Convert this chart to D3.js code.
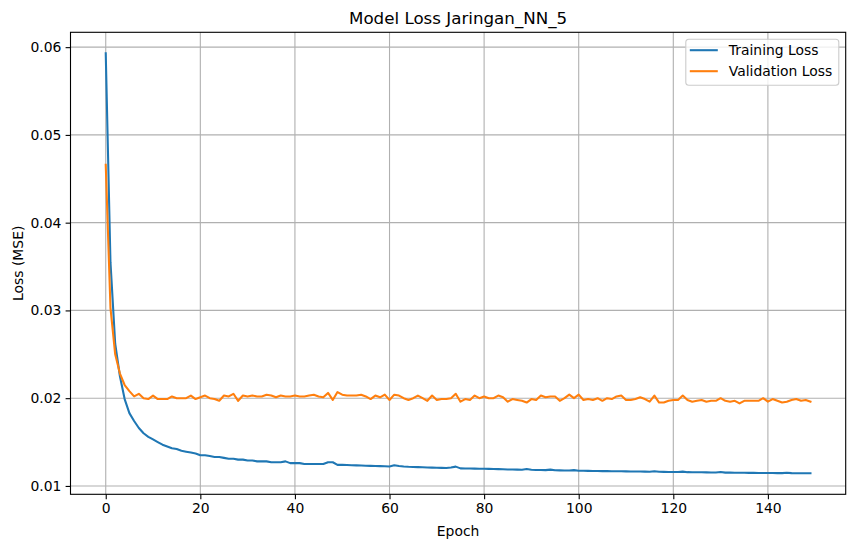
<!DOCTYPE html>
<html>
<head>
<meta charset="utf-8">
<script src="https://cdn.jsdelivr.net/npm/d3@7"></script>
<style>
  body { margin: 0; background: #fff; }
  text { font-family: "DejaVu Sans", sans-serif; fill: #000; }
</style>
</head>
<body>
<div id="chart"></div>
<script>
// Data
var trainLoss = [
  0.0593, 0.0355, 0.0262, 0.0225, 0.0199, 0.0183, 0.0174, 0.0166, 0.0160, 0.0156,
  0.0153, 0.0150, 0.0147, 0.0145, 0.0143, 0.0142, 0.0140, 0.0139, 0.0138, 0.0137,
  0.0135, 0.0135, 0.0134, 0.0133, 0.0133, 0.0132, 0.0131, 0.0131, 0.0130, 0.0130,
  0.0129, 0.0129, 0.0128, 0.0128, 0.0128, 0.0127, 0.0127, 0.0127, 0.0128, 0.0126,
  0.0126, 0.0126, 0.0125, 0.0125, 0.0125, 0.0125, 0.0125, 0.0127, 0.0127, 0.0124,
  0.01240, 0.01238, 0.01236, 0.01234, 0.01232, 0.01230, 0.01229, 0.01228, 0.01226, 0.01224,
  0.01222, 0.01236, 0.01228, 0.01222, 0.01218, 0.01216, 0.01214, 0.01212, 0.01210, 0.01209,
  0.01208, 0.01206, 0.01204, 0.01210, 0.01220, 0.01200, 0.01199, 0.01198, 0.01197, 0.01196,
  0.01195, 0.01194, 0.01193, 0.01192, 0.01190, 0.01188, 0.01187, 0.01186, 0.01185, 0.01192,
  0.01184, 0.01182, 0.01181, 0.01180, 0.01186, 0.01178, 0.01177, 0.01176, 0.01175, 0.01180,
  0.01174, 0.01173, 0.01172, 0.01171, 0.01170, 0.01169, 0.01170, 0.01168, 0.01167, 0.01168,
  0.01166, 0.01165, 0.01164, 0.01164, 0.01163, 0.01162, 0.01168, 0.01161, 0.01160, 0.01159,
  0.01159, 0.01158, 0.01163, 0.01157, 0.01156, 0.01156, 0.01155, 0.01155, 0.01154, 0.01153,
  0.01158, 0.01152, 0.01152, 0.01151, 0.01150, 0.01150, 0.01149, 0.01150, 0.01148, 0.01148,
  0.01147, 0.01147, 0.01146, 0.01146, 0.01150, 0.01146, 0.01145, 0.01145, 0.01144, 0.01144
];

var valLoss = [
  0.0466, 0.0303, 0.0250, 0.0228, 0.0215, 0.0208, 0.0202, 0.0205, 0.0200, 0.0199,
  0.0203, 0.0199, 0.0199, 0.0199, 0.0202, 0.0200, 0.0200, 0.0200, 0.0203, 0.0199,
  0.0201, 0.0203, 0.0200, 0.0199, 0.0197, 0.0203, 0.0202, 0.0205, 0.0197, 0.0203,
  0.0202, 0.0203, 0.0202, 0.0202, 0.0204, 0.0203, 0.0201, 0.0203, 0.0202, 0.0202,
  0.0203, 0.0202, 0.0202, 0.0203, 0.0204, 0.0202, 0.0201, 0.0206, 0.0198, 0.0207,
  0.0204, 0.0203, 0.0203, 0.0203, 0.0204, 0.0202, 0.0199, 0.0203, 0.0201, 0.0204,
  0.0198, 0.0204, 0.0203, 0.0200, 0.0198, 0.0200, 0.0203, 0.0200, 0.0197, 0.0203,
  0.0198, 0.0199, 0.0199, 0.0200, 0.0205, 0.0196, 0.0199, 0.0198, 0.0203, 0.0200,
  0.0202, 0.0200, 0.0200, 0.0203, 0.0201, 0.0196, 0.0199, 0.0198, 0.0197, 0.0195,
  0.0199, 0.0198, 0.0203, 0.0201, 0.0202, 0.0202, 0.0197, 0.0200, 0.0204, 0.0200,
  0.0204, 0.0198, 0.0199, 0.0198, 0.0200, 0.0197, 0.0200, 0.0199, 0.0202, 0.0203,
  0.0198, 0.0198, 0.0199, 0.0201, 0.0199, 0.0196, 0.0203, 0.0195, 0.0195, 0.0197,
  0.0198, 0.0198, 0.0203, 0.0198, 0.0196, 0.0197, 0.0198, 0.0196, 0.0197, 0.0197,
  0.0200, 0.0197, 0.0196, 0.0197, 0.0194, 0.0197, 0.0197, 0.0197, 0.0197, 0.0200,
  0.0196, 0.0199, 0.0197, 0.0195, 0.0196, 0.0198, 0.0199, 0.0197, 0.0198, 0.0196
];

var xTicks = [0, 20, 40, 60, 80, 100, 120, 140];
var yTicks = [0.01, 0.02, 0.03, 0.04, 0.05, 0.06];
var seriesNames = ['Training Loss', 'Validation Loss'];
var seriesColors = ['#1f77b4', '#ff7f0e'];

// Set up the svg area
var svgWidth = 855;
var svgHeight = 547;

var margin = { top: 32.3, right: 9.3, bottom: 52.7, left: 70.5 };
var chartWidth = svgWidth - margin.left - margin.right;
var chartHeight = svgHeight - margin.top - margin.bottom;

var svg = d3.select('#chart')
    .append('svg')
    .attr('width', svgWidth)
    .attr('height', svgHeight);

var chartGroup = svg.append('g')
    .attr('transform', `translate(${margin.left}, ${margin.top})`);

// Scales (matplotlib-like 5% margins)
var n = trainLoss.length;
var xPad = (n - 1) * 0.05;
var xScale = d3.scaleLinear()
    .domain([-xPad, n - 1 + xPad])
    .range([0, chartWidth]);

var allVals = trainLoss.concat(valLoss);
var yMin = d3.min(allVals), yMax = d3.max(allVals);
var yPad = (yMax - yMin) * 0.05;
var yScale = d3.scaleLinear()
    .domain([yMin - yPad, yMax + yPad])
    .range([chartHeight, 0]);

// Grid
chartGroup.append('g')
    .selectAll('line')
    .data(xTicks)
    .enter()
    .append('line')
    .attr('x1', (d) => xScale(d))
    .attr('x2', (d) => xScale(d))
    .attr('y1', 0)
    .attr('y2', chartHeight)
    .attr('stroke', '#b0b0b0')
    .attr('stroke-width', 1.1);

chartGroup.append('g')
    .selectAll('line')
    .data(yTicks)
    .enter()
    .append('line')
    .attr('x1', 0)
    .attr('x2', chartWidth)
    .attr('y1', (d) => yScale(d))
    .attr('y2', (d) => yScale(d))
    .attr('stroke', '#b0b0b0')
    .attr('stroke-width', 1.1);

// Axes
var bottomAxis = d3.axisBottom(xScale)
    .tickValues(xTicks)
    .tickSize(4.9)
    .tickPadding(4.2)
    .tickFormat(d3.format('d'));

var leftAxis = d3.axisLeft(yScale)
    .tickValues(yTicks)
    .tickSize(4.9)
    .tickPadding(4.2)
    .tickFormat(d3.format('.2f'));

var xAxis = chartGroup.append('g')
    .attr('transform', `translate(0, ${chartHeight})`)
    .call(bottomAxis);

var yAxis = chartGroup.append('g')
    .call(leftAxis);

[xAxis, yAxis].forEach((ax) => {
    ax.select('.domain').remove();
    ax.selectAll('line').attr('stroke', '#000').attr('stroke-width', 1.1);
    ax.selectAll('text')
        .style('font-family', '"DejaVu Sans", sans-serif')
        .style('font-size', '13.9px')
        .attr('fill', '#000');
});

// Lines
var lineGen = d3.line()
    .x((d, i) => xScale(i))
    .y((d) => yScale(d));

[trainLoss, valLoss].forEach((series, i) => {
    chartGroup.append('path')
        .datum(series)
        .attr('d', lineGen)
        .attr('fill', 'none')
        .attr('stroke', seriesColors[i])
        .attr('stroke-width', 2.08)
        .attr('stroke-linejoin', 'round')
        .attr('stroke-linecap', 'square');
});

// Frame
chartGroup.append('rect')
    .attr('x', 0)
    .attr('y', 0)
    .attr('width', chartWidth)
    .attr('height', chartHeight)
    .attr('fill', 'none')
    .attr('stroke', '#000')
    .attr('stroke-width', 1.1);

// Title and labels
svg.append('text')
    .attr('x', margin.left + chartWidth / 2)
    .attr('y', margin.top - 8.5)
    .attr('text-anchor', 'middle')
    .style('font-size', '16.7px')
    .text('Model Loss Jaringan_NN_5');

svg.append('text')
    .attr('x', margin.left + chartWidth / 2)
    .attr('y', 536)
    .attr('text-anchor', 'middle')
    .style('font-size', '13.9px')
    .text('Epoch');

svg.append('text')
    .attr('transform', `translate(23, ${margin.top + chartHeight / 2}) rotate(-90)`)
    .attr('text-anchor', 'middle')
    .style('font-size', '13.9px')
    .text('Loss (MSE)');

// Legend
var legendGroup = chartGroup.append('g')
    .attr('transform', `translate(${chartWidth - 6.9 - 153}, 6.9)`);

legendGroup.append('rect')
    .attr('width', 153)
    .attr('height', 46)
    .attr('rx', 3)
    .attr('fill', 'rgba(255,255,255,0.8)')
    .attr('stroke', '#cccccc')
    .attr('stroke-width', 1.1);

seriesNames.forEach((name, i) => {
    var yRow = 11 + i * 21;
    legendGroup.append('line')
        .attr('x1', 4)
        .attr('x2', 32)
        .attr('y1', yRow)
        .attr('y2', yRow)
        .attr('stroke', seriesColors[i])
        .attr('stroke-width', 2.08);
    legendGroup.append('text')
        .attr('x', 43)
        .attr('y', yRow + 5)
        .style('font-size', '13.9px')
        .text(name);
});
</script>
</body>
</html>
